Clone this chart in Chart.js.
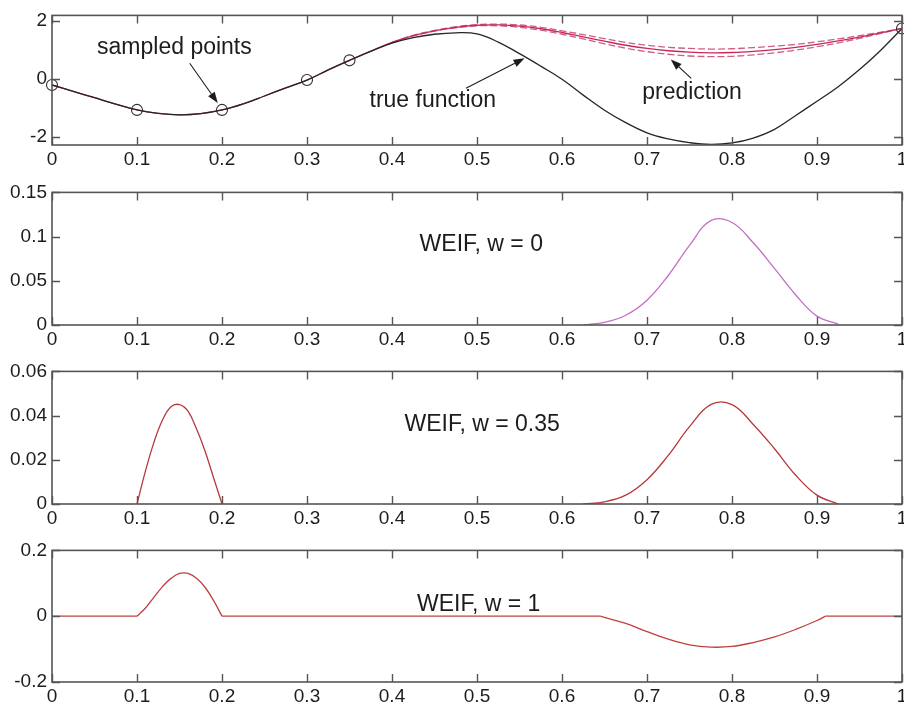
<!DOCTYPE html>
<html>
<head>
<meta charset="utf-8">
<script src="https://cdn.jsdelivr.net/npm/chart.js@4.4.1/dist/chart.umd.min.js"></script>
<style>
  html, body { margin: 0; padding: 0; background: #fff; overflow: hidden; }
  body { width: 904px; height: 708px; position: relative; }
  canvas { position: absolute; left: 0; }
</style>
</head>
<body>
<canvas id="c1" width="930" height="176" style="top:-1px"></canvas>
<canvas id="c2" width="930" height="179" style="top:176px"></canvas>
<canvas id="c3" width="930" height="179" style="top:355px"></canvas>
<canvas id="c4" width="930" height="178" style="top:534px"></canvas>
<script>
// top panel: true function, GP prediction and its bounds
const xTop = [0, 0.025, 0.05, 0.075, 0.1, 0.125, 0.15, 0.175, 0.2, 0.225,
  0.25, 0.275, 0.3, 0.325, 0.35, 0.375, 0.4, 0.425, 0.45, 0.475,
  0.5, 0.525, 0.55, 0.575, 0.6, 0.625, 0.65, 0.675, 0.7, 0.725,
  0.75, 0.775, 0.8, 0.825, 0.85, 0.875, 0.9, 0.925, 0.95, 0.975, 1];
const trueFn = [-0.20, -0.42, -0.64, -0.86, -1.06, -1.18, -1.23, -1.19, -1.06, -0.85,
  -0.58, -0.30, -0.03, 0.32, 0.65, 0.96, 1.24, 1.43, 1.55, 1.60,
  1.56, 1.28, 0.88, 0.45, 0.00, -0.55, -1.07, -1.50, -1.85, -2.06,
  -2.19, -2.25, -2.20, -2.03, -1.73, -1.25, -0.76, -0.26, 0.33, 1.00, 1.75];
const prediction = [-0.20, -0.42, -0.64, -0.86, -1.06, -1.18, -1.23, -1.19, -1.06, -0.85,
  -0.58, -0.30, -0.03, 0.32, 0.65, 0.97, 1.27, 1.50, 1.67, 1.79,
  1.86, 1.87, 1.83, 1.74, 1.61, 1.46, 1.31, 1.17, 1.06, 0.98,
  0.93, 0.91, 0.92, 0.96, 1.02, 1.10, 1.20, 1.32, 1.45, 1.60, 1.75];
const predUpper = [null, null, null, null, null, null, null, null, null, null,
  null, null, null, null, null, null, 1.27, 1.51, 1.68, 1.81,
  1.88, 1.90, 1.87, 1.79, 1.67, 1.54, 1.40, 1.27, 1.17, 1.10,
  1.06, 1.04, 1.05, 1.09, 1.14, 1.20, 1.29, 1.39, 1.50, 1.62, 1.75];
const predLower = [null, null, null, null, null, null, null, null, null, null,
  null, null, null, null, null, null, 1.27, 1.49, 1.66, 1.77,
  1.84, 1.84, 1.79, 1.69, 1.55, 1.39, 1.22, 1.07, 0.95, 0.86,
  0.80, 0.78, 0.79, 0.84, 0.91, 1.00, 1.12, 1.25, 1.41, 1.58, 1.75];
const sampleX = [0, 0.1, 0.2, 0.3, 0.35, 1];
const sampleY = [-0.2, -1.06, -1.06, -0.03, 0.65, 1.75];

// WEIF, w = 0
const w0X = [0.625, 0.65, 0.675, 0.7, 0.725, 0.75, 0.775, 0.8, 0.825, 0.85, 0.875, 0.9, 0.925];
const w0Y = [0, 0.003, 0.011, 0.028, 0.056, 0.090, 0.118, 0.116, 0.093, 0.064, 0.034, 0.010, 0.001];

// WEIF, w = 0.35
const w35X = [0.1, 0.11, 0.12, 0.13, 0.14, 0.15, 0.16, 0.17, 0.18, 0.19, 0.2,
  0.625, 0.65, 0.675, 0.7, 0.725, 0.75, 0.775, 0.8, 0.825, 0.85, 0.875, 0.9, 0.925];
const w35Y = [0, 0.015, 0.028, 0.038, 0.044, 0.045, 0.042, 0.034, 0.024, 0.012, 0,
  0, 0.001, 0.004, 0.011, 0.022, 0.035, 0.045, 0.045, 0.036, 0.025, 0.013, 0.004, 0];

// WEIF, w = 1
const w1X = [0, 0.1, 0.11, 0.12, 0.13, 0.14, 0.15, 0.16, 0.17, 0.18, 0.19, 0.2,
  0.645, 0.675, 0.7, 0.725, 0.75, 0.775, 0.8, 0.825, 0.85, 0.875, 0.9, 0.91, 1];
const w1Y = [0, 0, 0.025, 0.058, 0.090, 0.115, 0.130, 0.130, 0.115, 0.088, 0.048, 0,
  0, -0.022, -0.047, -0.070, -0.087, -0.094, -0.092, -0.080, -0.063, -0.040, -0.013, 0, 0];

const xTicks = [0, 0.1, 0.2, 0.3, 0.4, 0.5, 0.6, 0.7, 0.8, 0.9, 1];
const xTickLabels = ['0', '0.1', '0.2', '0.3', '0.4', '0.5', '0.6', '0.7', '0.8', '0.9', '1'];
const yTicks1 = [-2, 0, 2];
const yLabels1 = ['-2', '0', '2'];
const yTicks2 = [0, 0.05, 0.1, 0.15];
const yLabels2 = ['0', '0.05', '0.1', '0.15'];
const yTicks3 = [0, 0.02, 0.04, 0.06];
const yLabels3 = ['0', '0.02', '0.04', '0.06'];
const yTicks4 = [-0.2, 0, 0.2];
const yLabels4 = ['-0.2', '0', '0.2'];

const FONT = "'Liberation Sans', Arial, Helvetica, sans-serif";
const INK = '#1c1c1c';
const AXIS = '#555555';

function pts(xs, ys) {
  return xs.map((x, i) => ({ x: x, y: ys[i] }));
}

// cut a curve where it leaves / returns to zero so each bump gets its own spline
function pieces(xs, ys, keepFlat) {
  const out = [];
  let cur = [];
  xs.forEach((x, i) => {
    cur.push({ x: x, y: ys[i] });
    const edge = ys[i] === 0 && i > 0 && i < xs.length - 1 && (ys[i - 1] !== 0 || ys[i + 1] !== 0);
    if (edge) { out.push(cur); cur = [{ x: x, y: ys[i] }]; }
  });
  out.push(cur);
  return out.filter(p => p.length > 1 && (keepFlat || p.some(q => q.y !== 0)));
}

function lineSet(data, color, extra) {
  return Object.assign({
    data: data,
    borderColor: color,
    borderWidth: 1.3,
    pointRadius: 0,
    fill: false,
    tension: 0.4
  }, extra || {});
}

// box around the axes with inward tick marks on all four sides
const framePlugin = {
  id: 'frame',
  afterDatasetsDraw(chart) {
    const { ctx, chartArea: a, scales } = chart;
    const len = 8;
    ctx.save();
    ctx.strokeStyle = AXIS;
    ctx.lineWidth = 1.6;
    ctx.strokeRect(a.left, a.top, a.right - a.left, a.bottom - a.top);
    ctx.lineWidth = 1.4;
    ctx.beginPath();
    scales.x.ticks.forEach(t => {
      const px = Math.round(scales.x.getPixelForValue(t.value)) + 0.5;
      ctx.moveTo(px, a.bottom); ctx.lineTo(px, a.bottom - len);
      ctx.moveTo(px, a.top); ctx.lineTo(px, a.top + len);
    });
    scales.y.ticks.forEach(t => {
      const py = Math.round(scales.y.getPixelForValue(t.value)) + 0.5;
      ctx.moveTo(a.left, py); ctx.lineTo(a.left + len, py);
      ctx.moveTo(a.right, py); ctx.lineTo(a.right - len, py);
    });
    ctx.stroke();
    ctx.restore();
  }
};

// text labels and arrows given in data units
function notesPlugin(notes) {
  return {
    id: 'notes',
    afterDraw(chart) {
      const { ctx, scales } = chart;
      const X = v => scales.x.getPixelForValue(v);
      const Y = v => scales.y.getPixelForValue(v);
      ctx.save();
      ctx.fillStyle = INK;
      ctx.strokeStyle = INK;
      ctx.font = '23px ' + FONT;
      ctx.textAlign = 'center';
      ctx.textBaseline = 'middle';
      notes.forEach(n => {
        if (n.text) {
          ctx.fillText(n.text, X(n.x), Y(n.y));
        } else {
          const x0 = X(n.from[0]), y0 = Y(n.from[1]);
          const x1 = X(n.to[0]), y1 = Y(n.to[1]);
          const ang = Math.atan2(y1 - y0, x1 - x0);
          const hl = 11, hw = 4;
          ctx.lineWidth = 1.1;
          ctx.beginPath();
          ctx.moveTo(x0, y0);
          ctx.lineTo(x1 - hl * Math.cos(ang), y1 - hl * Math.sin(ang));
          ctx.stroke();
          ctx.beginPath();
          ctx.moveTo(x1, y1);
          ctx.lineTo(x1 - hl * Math.cos(ang) + hw * Math.sin(ang), y1 - hl * Math.sin(ang) - hw * Math.cos(ang));
          ctx.lineTo(x1 - hl * Math.cos(ang) - hw * Math.sin(ang), y1 - hl * Math.sin(ang) + hw * Math.cos(ang));
          ctx.closePath();
          ctx.fill();
        }
      });
      ctx.restore();
    }
  };
}

function makePanel(id, datasets, yMin, yMax, yTicks, yLabels, notes) {
  const tickFont = { family: FONT, size: 19 };
  new Chart(document.getElementById(id), {
    type: 'line',
    data: { datasets: datasets },
    options: {
      responsive: false,
      animation: false,
      events: [],
      layout: { padding: { left: 0, right: 28, top: 14, bottom: 0 } },
      plugins: { legend: { display: false }, tooltip: { enabled: false } },
      scales: {
        x: {
          type: 'linear',
          min: 0,
          max: 1,
          grid: { display: false, drawTicks: false },
          border: { display: false },
          afterBuildTicks: s => { s.ticks = xTicks.map(v => ({ value: v })); },
          afterFit: s => { s.height = 30; },
          ticks: {
            autoSkip: false,
            maxRotation: 0,
            padding: 3,
            color: INK,
            font: tickFont,
            callback: (v, i) => xTickLabels[i]
          }
        },
        y: {
          type: 'linear',
          min: yMin,
          max: yMax,
          grid: { display: false, drawTicks: false },
          border: { display: false },
          afterBuildTicks: s => { s.ticks = yTicks.map(v => ({ value: v })); },
          afterFit: s => { s.width = 52; },
          ticks: {
            autoSkip: false,
            padding: 5,
            color: INK,
            font: tickFont,
            callback: (v, i) => yLabels[i]
          }
        }
      }
    },
    plugins: [framePlugin, notesPlugin(notes)]
  });
}

// panel 1
makePanel('c1', [
  lineSet(pts(xTop, trueFn), '#262626'),
  {
    data: pts(sampleX, sampleY),
    showLine: false,
    pointRadius: 5.5,
    pointBorderWidth: 1.1,
    pointBorderColor: '#303030',
    pointBackgroundColor: 'rgba(0,0,0,0)',
    clip: false
  },
  lineSet(pts(xTop, prediction), '#c42a5c'),
  lineSet(pts(xTop, predUpper), '#d0607f', { borderDash: [7, 3] }),
  lineSet(pts(xTop, predLower), '#d0607f', { borderDash: [7, 3] })
], -2.27, 2.2, yTicks1, yLabels1, [
  { text: 'sampled points', x: 0.144, y: 1.09 },
  { from: [0.162, 0.55], to: [0.195, -0.82] },
  { text: 'true function', x: 0.448, y: -0.75 },
  { from: [0.487, -0.31], to: [0.556, 0.72] },
  { text: 'prediction', x: 0.753, y: -0.48 },
  { from: [0.752, 0.03], to: [0.728, 0.68] }
]);

// panel 2
makePanel('c2', pieces(w0X, w0Y, false).map(p => lineSet(p, '#c46ec8')),
  0, 0.15, yTicks2, yLabels2, [{ text: 'WEIF, w = 0', x: 0.505, y: 0.091 }]);

// panel 3
makePanel('c3', pieces(w35X, w35Y, false).map(p => lineSet(p, '#b8393c')),
  0, 0.06, yTicks3, yLabels3, [{ text: 'WEIF, w = 0.35', x: 0.506, y: 0.036 }]);

// panel 4
makePanel('c4', pieces(w1X, w1Y, true).map(p => lineSet(p, '#c0403f')),
  -0.2, 0.2, yTicks4, yLabels4, [{ text: 'WEIF, w = 1', x: 0.502, y: 0.034 }]);
</script>
</body>
</html>
